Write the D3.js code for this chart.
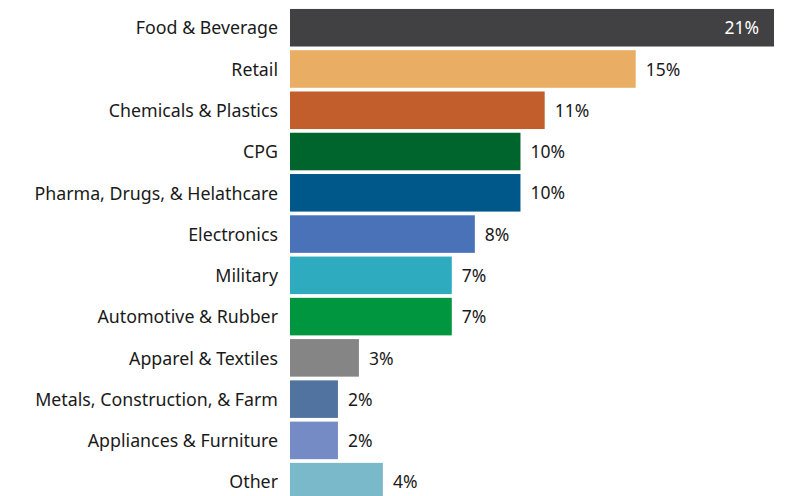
<!DOCTYPE html>
<html>
<head>
<meta charset="utf-8">
<script src="https://cdn.jsdelivr.net/npm/d3@7"></script>
<style>
  html, body { margin: 0; padding: 0; background: #fff; overflow: hidden; }
  svg { display: block; }
</style>
</head>
<body>
<svg id="chart" width="794" height="496"></svg>
<script>
const categories = [
  "Food & Beverage", "Retail", "Chemicals & Plastics", "CPG",
  "Pharma, Drugs, & Helathcare", "Electronics", "Military",
  "Automotive & Rubber", "Apparel & Textiles",
  "Metals, Construction, & Farm", "Appliances & Furniture", "Other"
];
const values = [21, 15, 11.05, 10, 10, 8.02, 7.02, 7.02, 2.99, 2.08, 2.08, 4.03];
const valueLabels = ["21%", "15%", "11%", "10%", "10%", "8%", "7%", "7%", "3%", "2%", "2%", "4%"];
const colors = [
  "#414042", "#e9ad63", "#c25e2b", "#00652d", "#00578a", "#4a72b8",
  "#2fabbf", "#00963f", "#858585", "#51739f", "#758bc6", "#7ab9ca"
];

const data = categories.map((c, i) => ({ cat: c, v: values[i], label: valueLabels[i], color: colors[i] }));

const svg = d3.select("#chart");
const x = d3.scaleLinear().domain([0, 21]).range([290, 774]);
const y = d3.scaleBand().domain(categories).range([7.1, 502.3]).paddingInner(0.09).paddingOuter(0.045);

const font = "'Noto Sans', 'Open Sans', sans-serif";

svg.selectAll("rect.bar").data(data).join("rect")
  .attr("class", "bar")
  .attr("x", x(0))
  .attr("y", d => y(d.cat))
  .attr("width", d => x(d.v) - x(0))
  .attr("height", y.bandwidth())
  .attr("fill", d => d.color);

// category axis labels
const yAxis = d3.axisLeft(y).tickSize(0).tickPadding(12);
const ag = svg.append("g").attr("transform", `translate(${x(0)},0)`).call(yAxis);
ag.select(".domain").remove();
ag.selectAll("text")
  .attr("font-family", font)
  .attr("font-size", 17.8)
  .attr("dy", "0.38em")
  .attr("fill", "#1a1a1a");

// value labels
svg.selectAll("text.val").data(data).join("text")
  .attr("class", "val")
  .attr("x", (d, i) => i === 0 ? x(d.v) - 15 : x(d.v) + 10)
  .attr("y", d => y(d.cat) + y.bandwidth() / 2)
  .attr("dy", "0.38em")
  .attr("text-anchor", (d, i) => i === 0 ? "end" : "start")
  .attr("font-family", font)
  .attr("font-size", 17.5)
  .attr("fill", (d, i) => i === 0 ? "#ffffff" : "#1a1a1a")
  .text(d => d.label);
</script>
</body>
</html>
